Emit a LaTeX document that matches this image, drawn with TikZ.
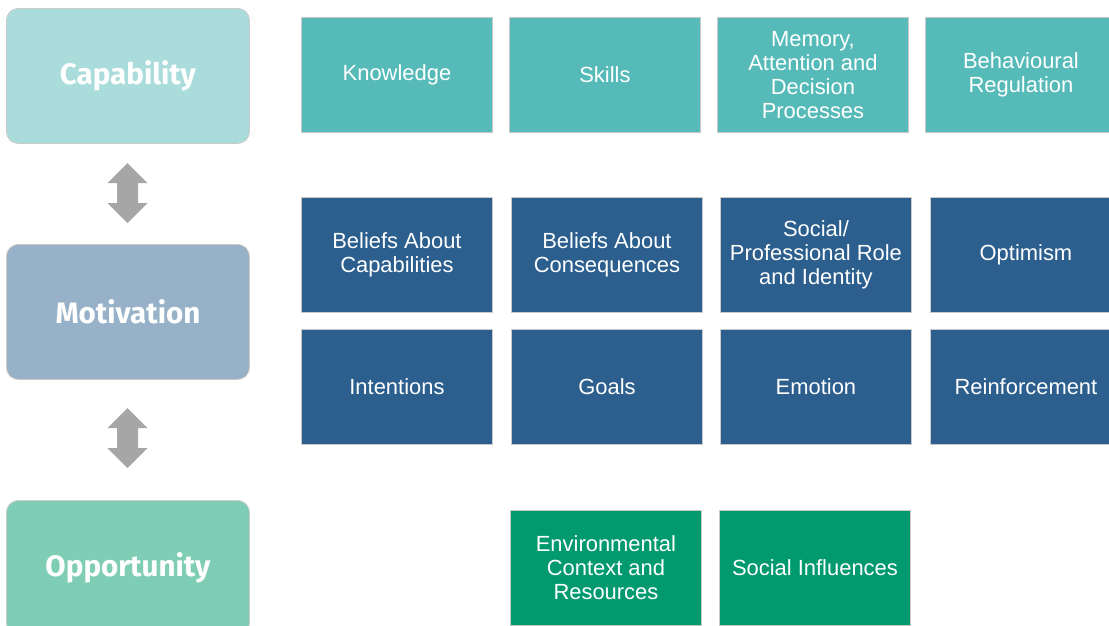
\documentclass[tikz,border=0pt]{standalone}
\usepackage{fontspec}
\setmainfont{Liberation Sans}
\newfontfamily\domainfont{Fira Sans}
\usepackage{tikz}
\usetikzlibrary{positioning}
\definecolor{capLight}{HTML}{A9DCDA}
\definecolor{capTeal}{HTML}{56BBB8}
\definecolor{motLight}{HTML}{97B1C8}
\definecolor{motBlue}{HTML}{2C5F8D}
\definecolor{oppLight}{HTML}{80CDB6}
\definecolor{oppGreen}{HTML}{009A6E}
\definecolor{edgeGray}{HTML}{CACACA}
\definecolor{arrowGray}{HTML}{A6A6A6}

\tikzset{
  combbox/.style={draw=edgeGray, line width=0.6pt, rounded corners=0.3cm,
    anchor=north west, minimum width=6.075cm, minimum height=3.375cm,
    text=white, font=\domainfont\bfseries\fontsize{21}{25}\selectfont},
  tdf/.style={draw=edgeGray, line width=0.6pt, anchor=north west,
    minimum width=4.775cm, minimum height=2.875cm, align=center,
    text=white, font=\fontsize{15.6}{17}\selectfont}
}

\begin{document}
\begin{tikzpicture}[x=0.025cm, y=-0.025cm]
  \useasboundingbox (0,0) rectangle (1109,625);
  \clip (0,0) rectangle (1109,625);
  % COM-B domains
  \node[combbox, fill=capLight] (capability) at (6,8) {Capability};
  \node[combbox, fill=motLight] (motivation) at (6,244) {Motivation};
  \node[combbox, fill=oppLight] (opportunity) at (6,500) {Opportunity};
  % up/down arrows between domains
  \foreach \y in {193,438} {
    \fill[arrowGray] (127.5,\y) ++(0,-30) -- ++(20,20) -- ++(-9.5,0) -- ++(0,20)
      -- ++(9.5,0) -- ++(-20,20) -- ++(-20,-20) -- ++(9.5,0) -- ++(0,-20)
      -- ++(-9.5,0) -- cycle;
  }
  % capability row
  \node[tdf, fill=capTeal] (knowledge) at (301,17) {Knowledge};
  \node[tdf, fill=capTeal] (skills) at (509,17) {Skills};
  \node[tdf, fill=capTeal] (memory) at (717,17) {Memory,\\Attention and\\Decision\\Processes};
  \node[tdf, fill=capTeal] (behreg) at (925,17) {Behavioural\\Regulation};
  % motivation rows
  \node[tdf, fill=motBlue] (beliefcap) at (301,197) {Beliefs About\\Capabilities};
  \node[tdf, fill=motBlue] (beliefcons) at (511,197) {Beliefs About\\Consequences};
  \node[tdf, fill=motBlue] (role) at (720,197) {Social/\\Professional Role\\and Identity};
  \node[tdf, fill=motBlue] (optimism) at (930,197) {Optimism};
  \node[tdf, fill=motBlue] (intentions) at (301,329) {Intentions};
  \node[tdf, fill=motBlue] (goals) at (511,329) {Goals};
  \node[tdf, fill=motBlue] (emotion) at (720,329) {Emotion};
  \node[tdf, fill=motBlue] (reinforce) at (930,329) {Reinforcement};
  % opportunity row
  \node[tdf, fill=oppGreen] (environment) at (510,510) {Environmental\\Context and\\Resources};
  \node[tdf, fill=oppGreen] (socinf) at (719,510) {Social Influences};
\end{tikzpicture}
\end{document}
